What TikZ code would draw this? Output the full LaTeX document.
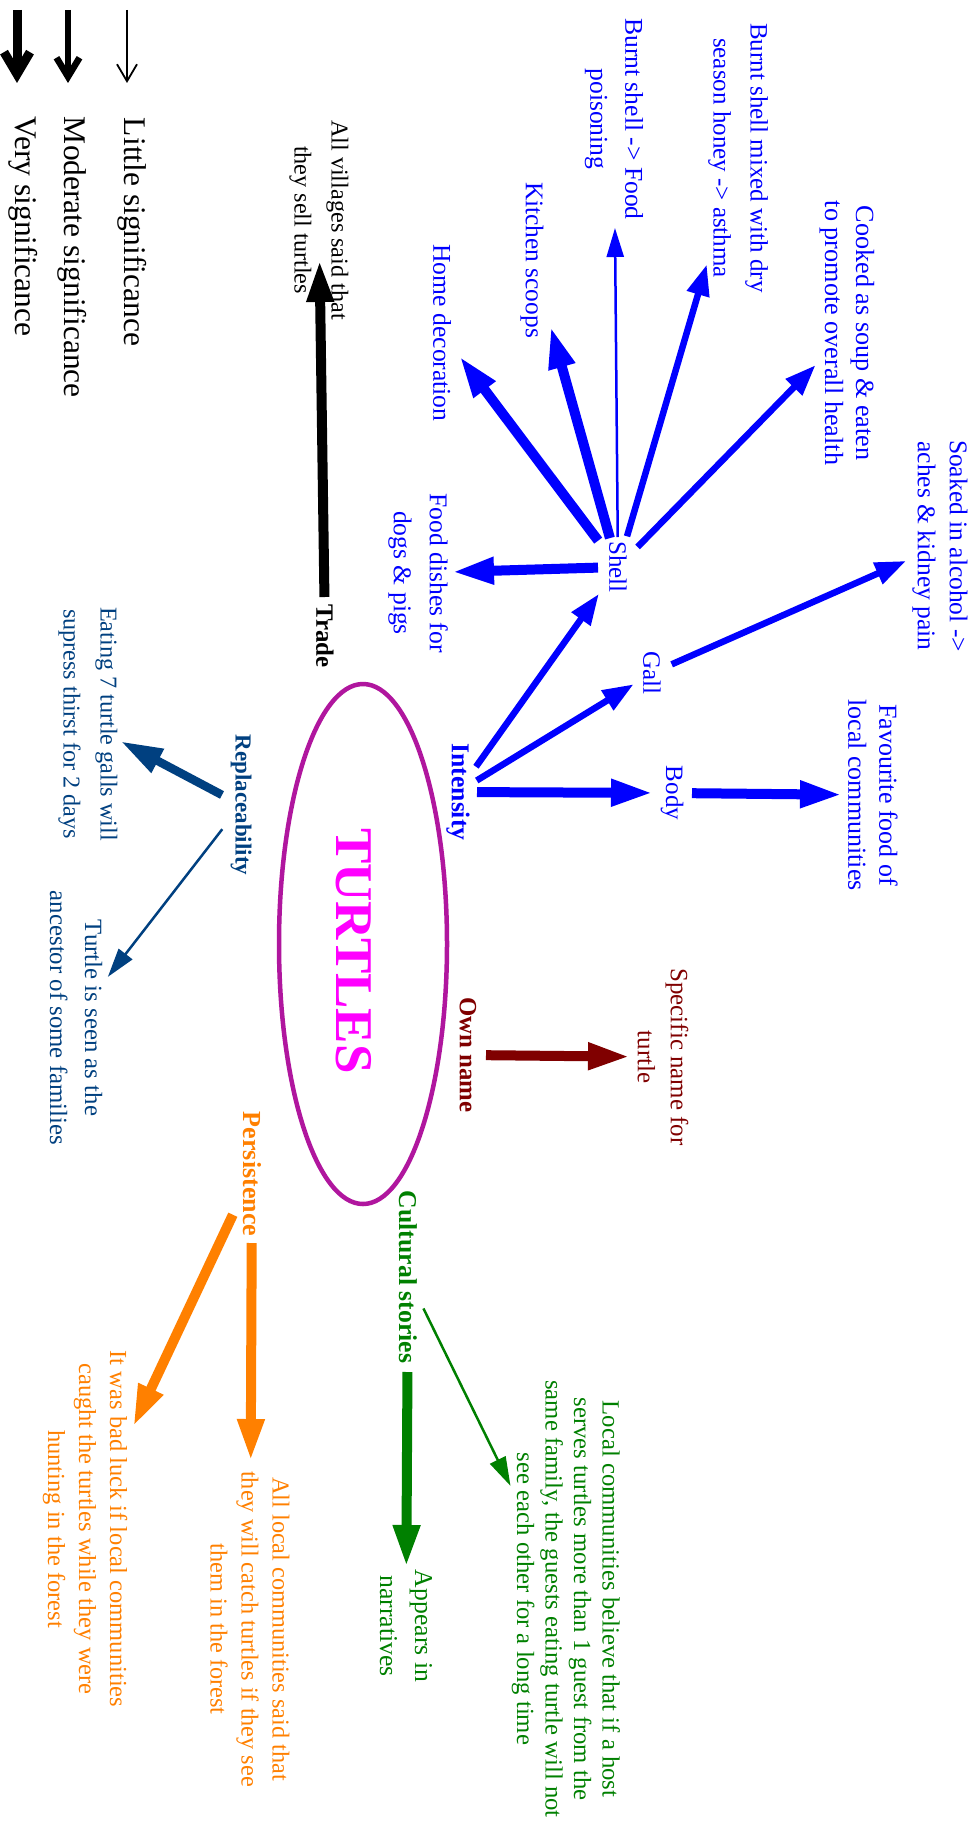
\documentclass[tikz,border=0pt]{standalone}
\usepackage{fontspec}
\setmainfont{Liberation Serif}
\usetikzlibrary{arrows.meta}
\definecolor{cblue}{RGB}{0,0,255}
\definecolor{cred}{RGB}{128,0,0}
\definecolor{cgreen}{RGB}{0,128,0}
\definecolor{corange}{RGB}{255,128,0}
\definecolor{cnavy}{RGB}{0,64,128}
\definecolor{cmag}{RGB}{255,0,255}
\definecolor{cpurple}{RGB}{176,22,158}
\tikzset{
  lab/.style={rotate=-90, inner sep=0pt, outer sep=0pt, align=center},
  fs/.style 2 args={font=\fontsize{#1}{#2}\selectfont},
  bfs/.style 2 args={font=\fontsize{#1}{#2}\selectfont\bfseries},
  thinarr/.style={line width=2.5pt, -{Triangle[length=29pt,width=17pt]}},
  medarr/.style={line width=6.5pt, -{Triangle[length=31pt,width=22pt]}},
  thickarr/.style={line width=10pt, -{Triangle[length=42pt,width=25pt]}},
  sh/.style 2 args={shorten <=#1pt, shorten >=#2pt},
}
\begin{document}
\begin{tikzpicture}[x=1pt,y=-1pt]
\useasboundingbox[fill=white] (0,0) rectangle (975,1825);

% legend
\draw[line width=9pt, -{Straight Barb[length=22pt,width=26pt,sharp]}] (17,10) -- (17,83);
\draw[line width=6.5pt, -{Straight Barb[length=19pt,width=23pt,sharp]}] (68,10) -- (68,83);
\draw[line width=1.8pt, -{Straight Barb[length=17pt,width=20pt,sharp]}] (127,10) -- (127,83);
\node[lab, fs={31.5}{36}, anchor=west] (lvery) at (23,117) {Very significance};
\node[lab, fs={31.5}{36}, anchor=west] (lmod) at (72,117) {Moderate significance};
\node[lab, fs={31.5}{36}, anchor=west] (llit) at (132,118) {Little significance};

% centre
\draw[cpurple, line width=4.5pt] (363,944) ellipse [x radius=84pt, y radius=260pt];
\node[lab, bfs={53}{60}, text=cmag] (turtles) at (354,951) {TURTLES};

% intensity branch
\node[lab, bfs={25.7}{30}, text=cblue] (intensity) at (458,792) {Intensity};
\node[lab, fs={25}{30}, text=cblue] (shell) at (618,567) {Shell};
\node[lab, fs={25}{30}, text=cblue] (gall) at (652,673) {Gall};
\node[lab, fs={25}{30}, text=cblue] (body) at (672,793) {Body};
\node[lab, fs={25.6}{36}, text=cblue] (fooddish) at (418,573) {Food dishes for\\dogs \& pigs};
\node[lab, fs={25.6}{30}, text=cblue] (homedec) at (442,333) {Home decoration};
\node[lab, fs={25.4}{30}, text=cblue] (kitchen) at (532,260) {Kitchen scoops};
\node[lab, fs={25.6}{35}, text=cblue] (burntfood) at (614,119) {Burnt shell -> Food\\poisoning};
\node[lab, fs={25}{37}, text=cblue] (asthma) at (738,158) {Burnt shell mixed with dry\\season honey -> asthma};
\node[lab, fs={26.2}{31}, text=cblue] (cooked) at (847,333) {Cooked as soup \& eaten\\to promote overall health};
\node[lab, fs={25.5}{32}, text=cblue] (soaked) at (940,546) {Soaked in alcohol ->\\aches \& kidney pain};
\node[lab, fs={26}{31}, text=cblue] (favourite) at (873,795) {Favourite food of\\local communities};

\draw[cblue, medarr, sh={31}{33}] (intensity.center) -- (shell.center);
\draw[cblue, medarr, sh={22}{21.5}] (intensity.center) -- (gall.center);
\draw[cblue, thickarr, sh={19}{19}] (intensity.center) -- (body.center);
\draw[cblue, thickarr, sh={20}{34}] (shell.center) -- (fooddish.center);
\draw[cblue, thickarr, sh={33}{29}] (shell.center) -- (homedec.center);
\draw[cblue, thickarr, sh={30}{69}] (shell.center) -- (kitchen.center);
\draw[cblue, thinarr, sh={30}{109}] (shell.center) -- (burntfood.center);
\draw[cblue, medarr, sh={32}{111}] (shell.center) -- (asthma.center);
\draw[cblue, medarr, sh={28}{45}] (shell.center) -- (cooked.center);
\draw[cblue, medarr, sh={21.5}{37}] (gall.center) -- (soaked.center);
\draw[cblue, thickarr, sh={20}{31}] (body.center) -- (favourite.center);

% own name
\node[lab, bfs={24.8}{30}, text=cred] (ownname) at (468,1055) {Own name};
\node[lab, fs={24.9}{33}, text=cred] (specific) at (663,1057) {Specific name for\\turtle};
\draw[cred, thickarr, sh={18}{33}] (ownname.center) -- (specific.center);

% cultural stories
\node[lab, bfs={25.7}{30}, text=cgreen] (cultural) at (408,1277) {Cultural stories};
\node[lab, fs={25.7}{35}, text=cgreen] (appears) at (406,1626) {Appears in\\narratives};
\node[lab, fs={24.7}{28.5}, text=cgreen] (localcomm) at (566,1599) {Local communities believe that if a host\\serves turtles more than 1 guest from the\\same family, the guests eating turtle will not\\see each other for a long time};
\draw[cgreen, thickarr, sh={95}{59}] (cultural.center) -- (appears.center);
\draw[cgreen, thinarr, sh={35}{126}] (cultural.center) -- (localcomm.center);

% persistence
\node[lab, bfs={26}{30}, text=corange] (persistence) at (252,1174) {Persistence};
\node[lab, fs={24.3}{31}, text=corange] (alllocal) at (250,1629) {All local communities said that\\they will catch turtles if they see\\them in the forest};
\node[lab, fs={24.5}{31}, text=corange] (badluck) at (85,1529) {It was bad luck if local communities\\caught the turtles while they were\\hunting in the forest};
\draw[corange, thickarr, sh={69}{168}] (persistence.center) -- (alllocal.center);
\draw[corange, thickarr, sh={45}{113}] (persistence.center) -- (badluck.center);

% replaceability
\node[lab, bfs={23}{28}, text=cnavy] (replace) at (241,805) {Replaceability};
\node[lab, fs={24.2}{37}, text=cnavy] (eating) at (88,724) {Eating 7 turtle galls will\\supress thirst for 2 days};
\node[lab, fs={24.8}{35}, text=cnavy] (turtleseen) at (76,1018) {Turtle is seen as the\\ancestor of some families};
\draw[cnavy, thickarr, line width=8.5pt, sh={21.5}{37}] (replace.center) -- (eating.center);
\draw[cnavy, thinarr, sh={30.6}{52}] (replace.center) -- (turtleseen.center);

% trade
\node[lab, bfs={24.9}{30}] (trade) at (325,636) {Trade};
\node[lab, fs={24.2}{37}] (villages) at (319,220) {All villages said that\\they sell turtles};
\draw[thickarr, sh={39}{40}] (trade.center) -- (villages.center);
\end{tikzpicture}
\end{document}
